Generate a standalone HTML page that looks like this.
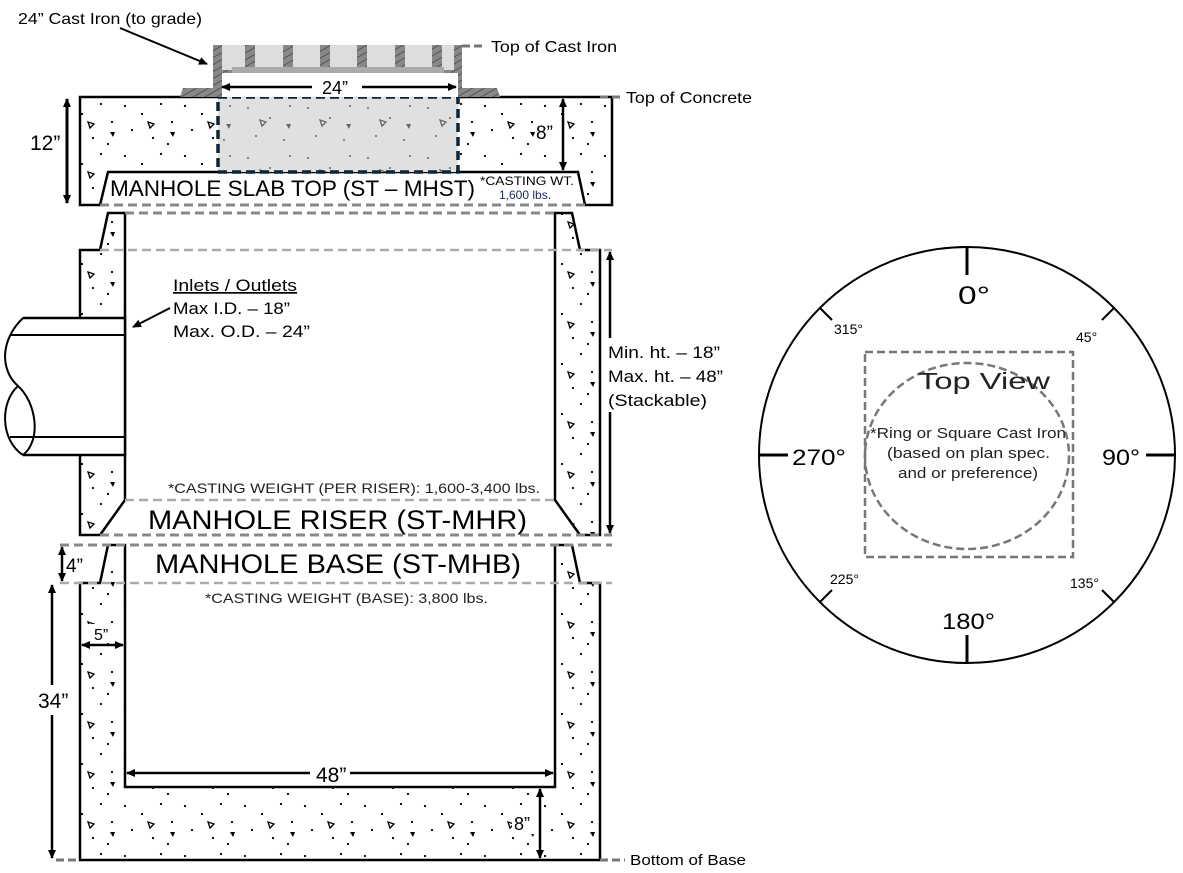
<!DOCTYPE html>
<html><head><meta charset="utf-8"><style>
html,body{margin:0;padding:0;background:#fff}
svg{display:block;font-family:"Liberation Sans",Arial,sans-serif}
</style></head><body>
<svg width="1183" height="873" viewBox="0 0 1183 873" xmlns="http://www.w3.org/2000/svg">
<defs>
<pattern id="conc" width="60" height="50" patternUnits="userSpaceOnUse">
<circle cx="5" cy="6" r="1.1" fill="#000"/><circle cx="22" cy="14" r="1.1" fill="#000"/>
<circle cx="41" cy="4" r="1.1" fill="#000"/><circle cx="52" cy="22" r="1.1" fill="#000"/>
<circle cx="12" cy="30" r="1.1" fill="#000"/><circle cx="33" cy="38" r="1.1" fill="#000"/>
<circle cx="48" cy="44" r="1.1" fill="#000"/>
<path d="M28 22 l6 2 l-4 4z" fill="none" stroke="#000" stroke-width="1.3"/>
<path d="M50 32 l5 0 l-2 5z" fill="#000"/>
</pattern>
<pattern id="conc2" width="60" height="50" patternUnits="userSpaceOnUse">
<circle cx="8" cy="8" r="1" fill="#666"/><circle cx="30" cy="18" r="1" fill="#666"/>
<circle cx="50" cy="6" r="1" fill="#666"/><circle cx="16" cy="36" r="1" fill="#666"/>
<circle cx="44" cy="40" r="1" fill="#666"/>
<path d="M20 20 l6 2 l-4 4z" fill="none" stroke="#666" stroke-width="1.3"/>
<path d="M46 24 l5 0 l-2 5z" fill="#666"/>
</pattern>
<pattern id="hatch" width="6" height="6" patternUnits="userSpaceOnUse" patternTransform="rotate(60)">
<rect width="6" height="6" fill="#888"/><line x1="0" y1="0" x2="0" y2="6" stroke="#555" stroke-width="2"/>
</pattern>
<marker id="ar" markerWidth="10" markerHeight="10" refX="8" refY="5" orient="auto-start-reverse" markerUnits="userSpaceOnUse">
<path d="M0 1 L9 5 L0 9z" fill="#000"/></marker>
</defs>

<!-- SLAB TOP -->
<path d="M80 97 H612 V205 H585 L578 172 H108 L100 205 H80 Z" fill="url(#conc)" stroke="#000" stroke-width="2.5"/>
<rect x="218" y="97" width="240" height="75" fill="#e0e0e0"/>
<rect x="218" y="97" width="240" height="75" fill="url(#conc2)" stroke="#0d2436" stroke-width="3.5" stroke-dasharray="9,5"/>
<line x1="100" y1="205" x2="585" y2="205" stroke="#888" stroke-width="3" stroke-dasharray="9,5"/>
<path d="M180 97 L183 88 H213 V45 H462 V88 H497 L500 97 Z" fill="url(#hatch)"/>
<rect x="222" y="45" width="232" height="25" fill="#ddd"/>
<g fill="url(#hatch)"><rect x="245" y="45" width="10" height="22"/><rect x="283" y="45" width="10" height="22"/><rect x="320" y="45" width="10" height="22"/><rect x="357" y="45" width="10" height="22"/><rect x="395" y="45" width="10" height="22"/><rect x="432" y="45" width="10" height="22"/></g>
<rect x="232" y="67" width="212" height="6" fill="#aaa"/>
<rect x="222" y="73" width="236" height="24" fill="#fff"/>
<line x1="462" y1="46" x2="485" y2="46" stroke="#777" stroke-width="3" stroke-dasharray="8,4"/>
<line x1="600" y1="97" x2="622" y2="97" stroke="#777" stroke-width="3" stroke-dasharray="8,4"/>
<text x="491" y="52" font-size="16" textLength="126" lengthAdjust="spacingAndGlyphs">Top of Cast Iron</text>
<text x="626" y="103" font-size="16" textLength="126" lengthAdjust="spacingAndGlyphs">Top of Concrete</text>
<text x="18" y="24" font-size="16" textLength="184" lengthAdjust="spacingAndGlyphs">24” Cast Iron (to grade)</text>
<line x1="120" y1="28" x2="207" y2="64" stroke="#000" stroke-width="2" marker-end="url(#ar)"/>
<line x1="222" y1="87" x2="312" y2="87" stroke="#000" stroke-width="2.5" marker-start="url(#ar)"/>
<line x1="362" y1="87" x2="456" y2="87" stroke="#000" stroke-width="2.5" marker-end="url(#ar)"/>
<text x="322" y="94" font-size="18">24”</text>
<line x1="67" y1="99" x2="67" y2="203" stroke="#000" stroke-width="3" marker-start="url(#ar)" marker-end="url(#ar)"/>
<text x="30" y="150" font-size="21">12”</text>
<line x1="563" y1="99" x2="563" y2="170" stroke="#000" stroke-width="2.5" marker-start="url(#ar)" marker-end="url(#ar)"/>
<rect x="535" y="120" width="24" height="24" fill="#fff"/>
<text x="536" y="139" font-size="19">8”</text>
<text x="110" y="196" font-size="22" textLength="365" lengthAdjust="spacingAndGlyphs">MANHOLE SLAB TOP (ST – MHST)</text>
<text x="480" y="185" font-size="12" textLength="94" lengthAdjust="spacingAndGlyphs">*CASTING WT.</text>
<text x="499" y="199" font-size="12" fill="#1a2a5a">1,600 lbs.</text>

<!-- RISER -->
<path d="M108 213 H125 V500 L100 535 H80 V250 H100 Z" fill="url(#conc)" stroke="#000" stroke-width="2.5"/>
<path d="M572 213 H555 V500 L580 535 H600 V250 H580 Z" fill="url(#conc)" stroke="#000" stroke-width="2.5"/>
<line x1="125" y1="213" x2="555" y2="213" stroke="#888" stroke-width="3" stroke-dasharray="9,5"/>
<line x1="100" y1="250" x2="612" y2="250" stroke="#aaa" stroke-width="2.5" stroke-dasharray="9,5"/>
<line x1="125" y1="500" x2="555" y2="500" stroke="#aaa" stroke-width="2.5" stroke-dasharray="9,5"/>
<line x1="100" y1="535" x2="612" y2="535" stroke="#888" stroke-width="3" stroke-dasharray="9,5"/>
<rect x="8" y="318" width="117" height="137" fill="#fff"/>
<path d="M23 318 H125 V455 H23" fill="none" stroke="#000" stroke-width="2.5"/>
<line x1="10" y1="335" x2="125" y2="335" stroke="#000" stroke-width="2"/>
<line x1="10" y1="437" x2="125" y2="437" stroke="#000" stroke-width="2"/>
<path d="M23 318 C0 340 0 370 18 386 C36 402 42 440 23 455" fill="none" stroke="#000" stroke-width="2"/>
<path d="M18 386 C0 402 0 440 23 455" fill="none" stroke="#000" stroke-width="2"/>
<line x1="170" y1="308" x2="133" y2="327" stroke="#000" stroke-width="2" marker-end="url(#ar)"/>
<text x="173" y="291" font-size="17" text-decoration="underline" textLength="124" lengthAdjust="spacingAndGlyphs">Inlets / Outlets</text>
<text x="173" y="314" font-size="17" textLength="117" lengthAdjust="spacingAndGlyphs">Max I.D. – 18”</text>
<text x="173" y="337" font-size="17" textLength="137" lengthAdjust="spacingAndGlyphs">Max. O.D. – 24”</text>
<line x1="610" y1="252" x2="610" y2="533" stroke="#000" stroke-width="2.5" marker-start="url(#ar)" marker-end="url(#ar)"/>
<rect x="604" y="338" width="14" height="74" fill="#fff"/>
<text x="608" y="358" font-size="17" textLength="112" lengthAdjust="spacingAndGlyphs">Min. ht. – 18”</text>
<text x="608" y="382" font-size="17" textLength="115" lengthAdjust="spacingAndGlyphs">Max. ht. – 48”</text>
<text x="608" y="406" font-size="17" textLength="99" lengthAdjust="spacingAndGlyphs">(Stackable)</text>
<text x="168" y="493" font-size="14" fill="#222" textLength="372" lengthAdjust="spacingAndGlyphs">*CASTING WEIGHT (PER RISER): 1,600-3,400 lbs.</text>
<text x="148" y="529" font-size="27" textLength="379" lengthAdjust="spacingAndGlyphs">MANHOLE RISER (ST-MHR)</text>

<!-- BASE -->
<path d="M80 583 H100 L108 545 H125 V787 H555 V545 H572 L580 583 H600 V860 H80 Z" fill="url(#conc)" stroke="#000" stroke-width="2.5"/>
<line x1="60" y1="545" x2="612" y2="545" stroke="#888" stroke-width="3" stroke-dasharray="9,5"/>
<line x1="60" y1="583" x2="612" y2="583" stroke="#aaa" stroke-width="2.5" stroke-dasharray="9,5"/>
<line x1="56" y1="860" x2="80" y2="860" stroke="#777" stroke-width="3" stroke-dasharray="8,4"/>
<line x1="600" y1="860" x2="625" y2="860" stroke="#777" stroke-width="3" stroke-dasharray="8,4"/>
<text x="630" y="865" font-size="15" textLength="116" lengthAdjust="spacingAndGlyphs">Bottom of Base</text>
<text x="155" y="573" font-size="27" textLength="366" lengthAdjust="spacingAndGlyphs">MANHOLE BASE (ST-MHB)</text>
<text x="205" y="603" font-size="14" fill="#222" textLength="283" lengthAdjust="spacingAndGlyphs">*CASTING WEIGHT (BASE): 3,800 lbs.</text>
<line x1="62" y1="547" x2="62" y2="581" stroke="#000" stroke-width="2.5" marker-start="url(#ar)" marker-end="url(#ar)"/>
<text x="66" y="572" font-size="19">4”</text>
<line x1="52" y1="585" x2="52" y2="858" stroke="#000" stroke-width="2.5" marker-start="url(#ar)" marker-end="url(#ar)"/>
<rect x="38" y="685" width="36" height="30" fill="#fff"/>
<text x="38" y="708" font-size="21">34”</text>
<rect x="88" y="624" width="32" height="18" fill="#fff"/>
<line x1="82" y1="645" x2="123" y2="645" stroke="#000" stroke-width="2.5" marker-start="url(#ar)" marker-end="url(#ar)"/>
<text x="94" y="640" font-size="16">5”</text>
<line x1="127" y1="773" x2="310" y2="773" stroke="#000" stroke-width="2.5" marker-start="url(#ar)"/>
<line x1="350" y1="773" x2="553" y2="773" stroke="#000" stroke-width="2.5" marker-end="url(#ar)"/>
<text x="316" y="782" font-size="21">48”</text>
<line x1="540" y1="789" x2="540" y2="858" stroke="#000" stroke-width="2.5" marker-start="url(#ar)" marker-end="url(#ar)"/>
<rect x="512" y="808" width="24" height="26" fill="#fff"/>
<text x="514" y="830" font-size="18">8”</text>

<!-- TOP VIEW -->
<circle cx="967" cy="455" r="208" fill="none" stroke="#000" stroke-width="2"/>
<g stroke="#000" stroke-width="3">
<line x1="967" y1="247" x2="967" y2="275"/><line x1="967" y1="635" x2="967" y2="663"/>
<line x1="760" y1="455" x2="788" y2="455"/><line x1="1146" y1="455" x2="1175" y2="455"/>
</g>
<g stroke="#000" stroke-width="2">
<line x1="820" y1="308" x2="832" y2="320"/><line x1="1114" y1="308" x2="1102" y2="320"/>
<line x1="820" y1="602" x2="832" y2="590"/><line x1="1114" y1="602" x2="1102" y2="590"/>
</g>
<rect x="865" y="352" width="208" height="205" fill="none" stroke="#777" stroke-width="2.5" stroke-dasharray="8,4"/>
<ellipse cx="967" cy="456" rx="102" ry="93" fill="none" stroke="#777" stroke-width="2.5" stroke-dasharray="8,4"/>
<text x="958" y="304" font-size="25" textLength="32" lengthAdjust="spacingAndGlyphs">0°</text>
<text x="942" y="629" font-size="22" textLength="53" lengthAdjust="spacingAndGlyphs">180°</text>
<text x="792" y="465" font-size="22" textLength="54" lengthAdjust="spacingAndGlyphs">270°</text>
<text x="1102" y="465" font-size="22" textLength="38" lengthAdjust="spacingAndGlyphs">90°</text>
<text x="834" y="334" font-size="14">315°</text>
<text x="1076" y="342" font-size="14">45°</text>
<text x="830" y="584" font-size="14">225°</text>
<text x="1070" y="588" font-size="14">135°</text>
<text x="918" y="389" font-size="23" fill="#222" textLength="132" lengthAdjust="spacingAndGlyphs">Top View</text>
<text x="870" y="438" font-size="15" fill="#222" textLength="196" lengthAdjust="spacingAndGlyphs">*Ring or Square Cast Iron</text>
<text x="887" y="458" font-size="15" fill="#222" textLength="163" lengthAdjust="spacingAndGlyphs">(based on plan spec.</text>
<text x="898" y="478" font-size="15" fill="#222" textLength="140" lengthAdjust="spacingAndGlyphs">and or preference)</text>
</svg>
</body></html>
